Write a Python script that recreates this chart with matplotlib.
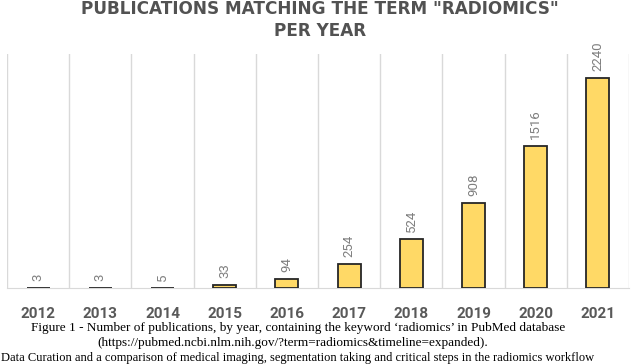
import matplotlib
matplotlib.use("Agg")
import matplotlib.pyplot as plt

years = ["2012", "2013", "2014", "2015", "2016", "2017", "2018", "2019", "2020", "2021"]
counts = [3, 3, 5, 33, 94, 254, 524, 908, 1516, 2240]

title = 'PUBLICATIONS MATCHING THE TERM "RADIOMICS"\nPER YEAR'
caption1 = "Figure 1 - Number of publications, by year, containing the keyword \u2018radiomics\u2019 in PubMed database"
caption2 = "(https://pubmed.ncbi.nlm.nih.gov/?term=radiomics&timeline=expanded)."
caption3 = "Data Curation and a comparison of medical imaging, segmentation taking and critical steps in the radiomics workflow"

fig = plt.figure(figsize=(6.4, 3.64), dpi=100)
ax = fig.add_axes([7/640, 1-288/364, 622/640, 234/364])

x = list(range(len(years)))
ax.bar(x, counts, width=0.37, color="#FFD966", edgecolor="#262626", linewidth=1.3, zorder=3)
ax.set_xlim(-0.5, len(years)-0.5)
ax.set_ylim(0, 2500)

for b in [i - 0.5 for i in range(len(years)+1)]:
    ax.axvline(b, color="#d9d9d9", linewidth=1.0, zorder=1)

for i, v in enumerate(counts):
    ax.annotate(str(v), (i, v), xytext=(0, 5), textcoords="offset points",
                rotation=90, ha="center", va="bottom", fontsize=9.5,
                color="#7f7f7f", family=["Roboto", "DejaVu Sans"])

for s in ["top", "left", "right"]:
    ax.spines[s].set_visible(False)
ax.spines["bottom"].set_color("#d9d9d9")
ax.spines["bottom"].set_zorder(0.5)
ax.set_yticks([])
ax.set_xticks(x)
ax.set_xticklabels(years, fontsize=11, fontweight="bold", color="#595959",
                   family=["Roboto", "DejaVu Sans"])
ax.tick_params(axis="x", length=0, pad=14)

fig.text(0.5, 1-20/364, title, ha="center", va="center", fontsize=12.2,
         fontweight="bold", color="#525252", linespacing=1.3,
         family=["DejaVu Sans"])

fig.text(298/640, 1-328/364, caption1, ha="center", va="center", fontsize=9.5,
         family="Liberation Serif", color="black")
fig.text(293/640, 1-343/364, caption2, ha="center", va="center", fontsize=9.5,
         family="Liberation Serif", color="black")
fig.text(1/640, 1-357.5/364, caption3, ha="left", va="center", fontsize=9,
         family="Liberation Serif", color="black")

fig.savefig("out.png", dpi=100)
